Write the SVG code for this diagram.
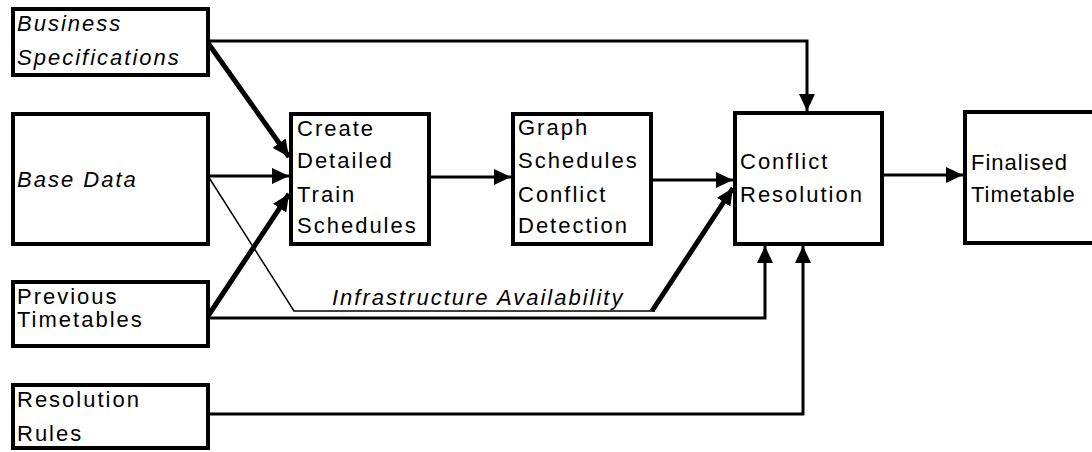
<svg xmlns="http://www.w3.org/2000/svg" width="1092" height="452" viewBox="0 0 1092 452">
  <style>
    .box { fill: #ffffff; stroke: #000000; stroke-width: 4; }
    .lbl { font-family: "Liberation Sans", Arial, sans-serif; font-size: 22px; letter-spacing: 2px; fill: #000000; }
    .it { font-style: italic; }
    .tight { letter-spacing: 1px; }
    .ln { fill: none; stroke: #000000; stroke-width: 3; }
    .thick { fill: none; stroke: #000000; stroke-width: 5; }
    .thin { fill: none; stroke: #000000; stroke-width: 1.5; }
  </style>
  <defs>
    <marker id="arrow" markerUnits="userSpaceOnUse" markerWidth="18" markerHeight="16" refX="17" refY="8" orient="auto" viewBox="0 0 18 16">
      <path d="M0,0 L17,8 L0,16 Z" fill="#000000"/>
    </marker>
  </defs>

  <!-- connectors -->
  <g id="connectors">
    <path class="ln" d="M208,41 H807 V111" marker-end="url(#arrow)"/>
    <path class="thick" d="M208,43 L289,157" marker-end="url(#arrow)"/>
    <path class="ln" d="M208,176 H289" marker-end="url(#arrow)"/>
    <path class="thin" d="M208,176 L294,311 H655"/>
    <path class="thick" d="M652,311 L733,188" marker-end="url(#arrow)"/>
    <path class="thick" d="M208,316 L289,194" marker-end="url(#arrow)"/>
    <path class="ln" d="M208,318 H765 V246" marker-end="url(#arrow)"/>
    <path class="ln" d="M205,414 H803 V246" marker-end="url(#arrow)"/>
    <path class="ln" d="M431,177 H511" marker-end="url(#arrow)"/>
    <path class="ln" d="M653,180 H733" marker-end="url(#arrow)"/>
    <path class="ln" d="M884,175 H963" marker-end="url(#arrow)"/>
    <text class="lbl it" x="332" y="305" letter-spacing="2.2">Infrastructure Availability</text>
  </g>

  <g id="business-specifications">
    <rect class="box" x="13" y="9" width="195" height="66"/>
    <text class="lbl it" x="17" y="31">Business</text>
    <text class="lbl it" x="17" y="65">Specifications</text>
  </g>

  <g id="base-data">
    <rect class="box" x="13" y="114" width="195" height="130"/>
    <text class="lbl it" x="17" y="187">Base Data</text>
  </g>

  <g id="previous-timetables">
    <rect class="box" x="13" y="282" width="195" height="64"/>
    <text class="lbl" x="17" y="304">Previous</text>
    <text class="lbl" x="17" y="327">Timetables</text>
  </g>

  <g id="resolution-rules">
    <rect class="box" x="13" y="385" width="195" height="63"/>
    <text class="lbl" x="17" y="407">Resolution</text>
    <text class="lbl" x="17" y="441">Rules</text>
  </g>

  <g id="create-schedules">
    <rect class="box" x="291" y="114" width="138" height="130"/>
    <text class="lbl" x="297" y="136">Create</text>
    <text class="lbl" x="297" y="168">Detailed</text>
    <text class="lbl" x="297" y="202">Train</text>
    <text class="lbl" x="297" y="233">Schedules</text>
  </g>

  <g id="graph-schedules">
    <rect class="box" x="513" y="114" width="138" height="130"/>
    <text class="lbl" x="518" y="135">Graph</text>
    <text class="lbl" x="518" y="168">Schedules</text>
    <text class="lbl" x="518" y="202">Conflict</text>
    <text class="lbl" x="518" y="233">Detection</text>
  </g>

  <g id="conflict-resolution">
    <rect class="box" x="735" y="113" width="147" height="131"/>
    <text class="lbl" x="740" y="169">Conflict</text>
    <text class="lbl" x="740" y="202">Resolution</text>
  </g>

  <g id="finalised-timetable">
    <rect class="box" x="965" y="112" width="200" height="131"/>
    <text class="lbl tight" x="971" y="170">Finalised</text>
    <text class="lbl tight" x="971" y="202">Timetable</text>
  </g>
</svg>
